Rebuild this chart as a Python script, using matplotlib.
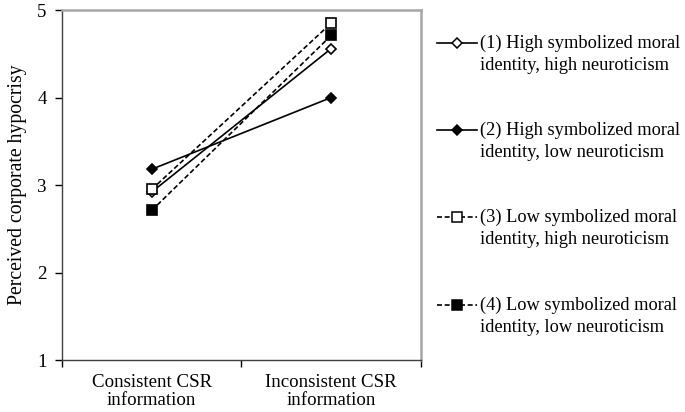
import matplotlib
matplotlib.use("Agg")
import matplotlib.pyplot as plt
from matplotlib.lines import Line2D

plt.rcParams['font.family'] = ['Liberation Serif', 'DejaVu Serif']

# 数据
categories = ["Consistent CSR\ninformation", "Inconsistent CSR\ninformation"]
s1 = [2.92, 4.56]   # (1) 高象征道德认同, 高神经质
s2 = [3.18, 4.00]   # (2) 高象征道德认同, 低神经质
s3 = [2.95, 4.85]   # (3) 低象征道德认同, 高神经质
s4 = [2.71, 4.71]   # (4) 低象征道德认同, 低神经质
labels = ["(1) High symbolized moral\nidentity, high neuroticism",
          "(2) High symbolized moral\nidentity, low neuroticism",
          "(3) Low symbolized moral\nidentity, high neuroticism",
          "(4) Low symbolized moral\nidentity, low neuroticism"]

styles = [
    dict(ls='-', marker='D', ms=5.5, mfc='white'),
    dict(ls='-', marker='D', ms=5.5, mfc='black'),
    dict(ls=(0, (3, 1.6)), marker='s', ms=7, mfc='white'),
    dict(ls=(0, (3, 1.6)), marker='s', ms=7, mfc='black'),
]

FS = 13.6

fig = plt.figure(figsize=(6.85, 4.12), dpi=100)
ax = fig.add_axes([0.0905, 0.1262, 0.5241, 0.8495])

xpos = [0.5, 1.5]
for vals, st in zip([s1, s2, s3, s4], styles):
    ax.plot(xpos, vals, color='black', lw=1.2, mec='black', mew=1.2,
            linestyle=st['ls'], marker=st['marker'], ms=st['ms'], mfc=st['mfc'])

ax.set_xlim(0, 2)
ax.set_ylim(1, 5)
ax.set_yticks([1, 2, 3, 4, 5])
ax.set_xticks([0, 1, 2])
ax.set_xticklabels([])
ax.set_xticks(xpos, minor=True)
ax.set_xticklabels(categories, minor=True, fontsize=FS, linespacing=1.1)
ax.tick_params(axis='x', which='minor', length=0, pad=10)
ax.tick_params(axis='x', which='major', length=5, width=1.0, direction='out')
ax.tick_params(axis='y', length=5, width=1.0, direction='out', labelsize=FS, pad=6)

for s in ['top', 'right']:
    ax.spines[s].set_color('#a6a6a6')
    ax.spines[s].set_linewidth(1.8)
for s in ['left', 'bottom']:
    ax.spines[s].set_color('#404040')
    ax.spines[s].set_linewidth(1.0)

ax.set_ylabel("Perceived corporate hypocrisy", fontsize=14.2, labelpad=7)

# 图例（手动排版，符号与首行对齐）
W, H = 685, 412
leg_y = [43, 130, 217, 305]
for yy, st, lab in zip(leg_y, styles, labels):
    fy = 1 - yy / H
    fig.add_artist(Line2D([437 / W, 477 / W], [fy, fy], transform=fig.transFigure,
                          color='black', lw=1.2, linestyle=st['ls']))
    fig.add_artist(Line2D([457 / W], [fy], transform=fig.transFigure,
                          color='black', marker=st['marker'], ms=st['ms'] - 0.5,
                          mfc=st['mfc'], mec='black', mew=1.1))
    fig.text(480 / W, 1 - (yy - 8.5) / H, lab, fontsize=13.2, va='top', ha='left',
             linespacing=1.42)

plt.savefig("out.png", dpi=100)
plt.close()
